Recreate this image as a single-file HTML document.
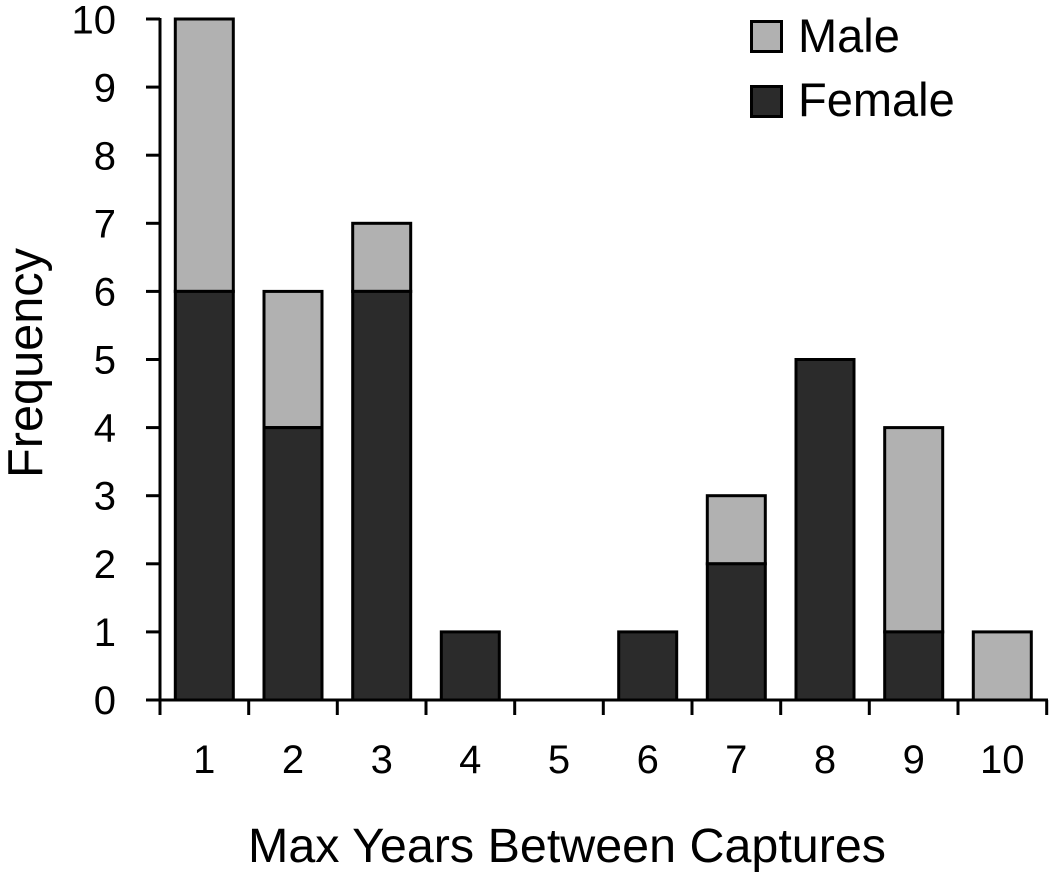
<!DOCTYPE html>
<html>
<head>
<meta charset="utf-8">
<style>
html,body{margin:0;padding:0;background:#fff;}
svg{display:block;}
text{font-family:"Liberation Sans",sans-serif;fill:#000;}
</style>
</head>
<body>
<svg width="1051" height="873" viewBox="0 0 1051 873" xmlns="http://www.w3.org/2000/svg">
<rect x="0" y="0" width="1051" height="873" fill="#fff"/>
<g stroke="#000" stroke-width="3">
<rect x="175.3" y="19" width="58" height="272.4" fill="#b1b1b1"/>
<rect x="175.3" y="291.4" width="58" height="408.6" fill="#2b2b2b"/>
<rect x="264" y="291.4" width="58" height="136.2" fill="#b1b1b1"/>
<rect x="264" y="427.6" width="58" height="272.4" fill="#2b2b2b"/>
<rect x="352.7" y="223.3" width="58" height="68.1" fill="#b1b1b1"/>
<rect x="352.7" y="291.4" width="58" height="408.6" fill="#2b2b2b"/>
<rect x="441.3" y="631.9" width="58" height="68.1" fill="#2b2b2b"/>
<rect x="618.7" y="631.9" width="58" height="68.1" fill="#2b2b2b"/>
<rect x="707.3" y="495.7" width="58" height="68.1" fill="#b1b1b1"/>
<rect x="707.3" y="563.8" width="58" height="136.2" fill="#2b2b2b"/>
<rect x="796" y="359.5" width="58" height="340.5" fill="#2b2b2b"/>
<rect x="884.7" y="427.6" width="58" height="204.3" fill="#b1b1b1"/>
<rect x="884.7" y="631.9" width="58" height="68.1" fill="#2b2b2b"/>
<rect x="973.3" y="631.9" width="58" height="68.1" fill="#b1b1b1"/>
</g>
<g stroke="#000" stroke-width="3" fill="none">
<line x1="160" y1="18" x2="160" y2="701.5"/>
<line x1="146" y1="700" x2="1048" y2="700"/>
<line x1="146" y1="19" x2="160" y2="19"/>
<line x1="146" y1="87.1" x2="160" y2="87.1"/>
<line x1="146" y1="155.2" x2="160" y2="155.2"/>
<line x1="146" y1="223.3" x2="160" y2="223.3"/>
<line x1="146" y1="291.4" x2="160" y2="291.4"/>
<line x1="146" y1="359.5" x2="160" y2="359.5"/>
<line x1="146" y1="427.6" x2="160" y2="427.6"/>
<line x1="146" y1="495.7" x2="160" y2="495.7"/>
<line x1="146" y1="563.8" x2="160" y2="563.8"/>
<line x1="146" y1="631.9" x2="160" y2="631.9"/>
<line x1="160" y1="700" x2="160" y2="715"/>
<line x1="248.7" y1="700" x2="248.7" y2="715"/>
<line x1="337.3" y1="700" x2="337.3" y2="715"/>
<line x1="426" y1="700" x2="426" y2="715"/>
<line x1="514.7" y1="700" x2="514.7" y2="715"/>
<line x1="603.3" y1="700" x2="603.3" y2="715"/>
<line x1="692" y1="700" x2="692" y2="715"/>
<line x1="780.7" y1="700" x2="780.7" y2="715"/>
<line x1="869.3" y1="700" x2="869.3" y2="715"/>
<line x1="958" y1="700" x2="958" y2="715"/>
<line x1="1046.7" y1="700" x2="1046.7" y2="715"/>
</g>
<g font-size="40" text-anchor="end">
<text x="116" y="33.5">10</text>
<text x="116" y="101.5">9</text>
<text x="116" y="169.5">8</text>
<text x="116" y="237.5">7</text>
<text x="116" y="305.5">6</text>
<text x="116" y="373.5">5</text>
<text x="116" y="441.5">4</text>
<text x="116" y="509.5">3</text>
<text x="116" y="578">2</text>
<text x="116" y="646">1</text>
<text x="116" y="714">0</text>
</g>
<g font-size="40" text-anchor="middle">
<text x="204.3" y="773">1</text>
<text x="293" y="773">2</text>
<text x="381.7" y="773">3</text>
<text x="470.3" y="773">4</text>
<text x="559" y="773">5</text>
<text x="647.7" y="773">6</text>
<text x="736.3" y="773">7</text>
<text x="825" y="773">8</text>
<text x="913.7" y="773">9</text>
<text x="1002.3" y="773">10</text>
</g>
<text x="248" y="862" font-size="48" textLength="638" lengthAdjust="spacingAndGlyphs">Max Years Between Captures</text>
<text transform="translate(42,363) rotate(-90)" font-size="49" text-anchor="middle" textLength="230" lengthAdjust="spacingAndGlyphs">Frequency</text>
<rect x="751.5" y="21.5" width="30" height="30" fill="#b1b1b1" stroke="#000" stroke-width="3"/>
<rect x="751.5" y="86.5" width="30" height="30" fill="#2b2b2b" stroke="#000" stroke-width="3"/>
<text x="798" y="52" font-size="47">Male</text>
<text x="798" y="116" font-size="47">Female</text>
</svg>
</body>
</html>
